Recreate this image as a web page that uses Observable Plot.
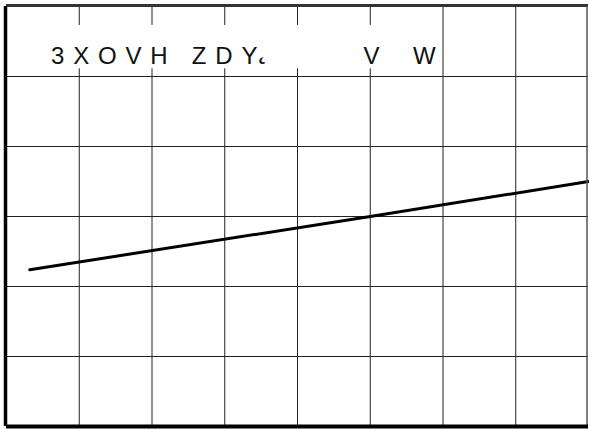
<!DOCTYPE html>
<html>
<head>
<meta charset="utf-8">
<script src="https://cdn.jsdelivr.net/npm/d3@7"></script>
<script src="https://cdn.jsdelivr.net/npm/@observablehq/plot@0.6"></script>
<style>
  html, body { margin: 0; padding: 0; background: #fff; }
  #chart svg { display: block; }
</style>
</head>
<body>
<div id="chart"></div>
<script>
// Grid divisions
const xTicks = [1, 2, 3, 4, 5, 6, 7];
const yTicks = [1, 2, 3, 4, 5];
// Series (straight trace)
const lineX = [0.32, 5, 8];
const lineY = [2.24, 3.0, 3.5];
// Title text pieces (as shown)
const titleMain = "3XOVH ZDY";
const titleHook = "\u02DB";
const titleV = "V";
const titleW = "W";

const lineData = lineX.map((x, i) => ({x, y: lineY[i]}));

const chart = Plot.plot({
  width: 589,
  height: 429,
  marginLeft: 6,
  marginRight: 1,
  marginTop: 6,
  marginBottom: 3,
  x: {domain: [0, 8], axis: null},
  y: {domain: [0, 6], axis: null},
  style: {fontFamily: "'Liberation Sans', Arial, sans-serif", background: "#fff"},
  marks: [
    Plot.ruleX(xTicks, {stroke: "#222", strokeWidth: 1}),
    Plot.ruleY(yTicks, {stroke: "#222", strokeWidth: 1}),
    // label background
    Plot.rect([0], {x1: 0, x2: 6, y1: 5.11, y2: 5.73, fill: "#fff", insetRight: 1, insetLeft: 1}),
    Plot.text([titleMain], {frameAnchor: "top-left", dx: 44.5, dy: 40, textAnchor: "start", fontSize: 24, fill: "#111"}),
    Plot.text([titleHook], {frameAnchor: "top-left", dx: 251.5, dy: 27.5, textAnchor: "start", fontSize: 32, fill: "#111"}),
    Plot.text([titleV], {frameAnchor: "top-left", dx: 357, dy: 40, textAnchor: "start", fontSize: 24, fill: "#111"}),
    Plot.text([titleW], {frameAnchor: "top-left", dx: 406.5, dy: 40, textAnchor: "start", fontSize: 24, fill: "#111"}),
    Plot.line(lineData, {x: "x", y: "y", stroke: "#000", strokeWidth: 3}),
    // frame borders
    Plot.ruleY([6], {stroke: "#333", strokeWidth: 3, dy: -1}),
    Plot.ruleX([8], {stroke: "#555", strokeWidth: 1.5, dx: -1.5}),
    Plot.ruleX([0], {stroke: "#000", strokeWidth: 3.5, dx: -1}),
    Plot.ruleY([0], {stroke: "#000", strokeWidth: 4})
  ]
});
// widen the letter spacing of the title, without trailing space after the last letter
chart.querySelectorAll("text").forEach(el => {
  if (el.textContent === titleMain) {
    el.textContent = "";
    const ns = "http://www.w3.org/2000/svg";
    const a = document.createElementNS(ns, "tspan");
    a.textContent = titleMain.slice(0, -1);
    a.setAttribute("style", "letter-spacing:8.8px");
    const b = document.createElementNS(ns, "tspan");
    b.textContent = titleMain.slice(-1);
    el.append(a, b);
  }
});
document.getElementById("chart").append(chart);
</script>
</body>
</html>
